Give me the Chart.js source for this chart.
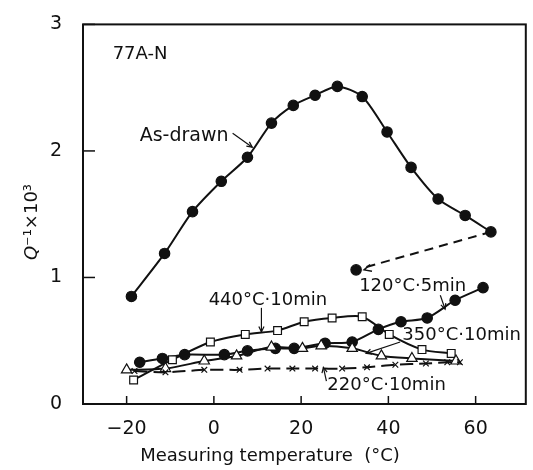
<!DOCTYPE html>
<html>
<head>
<meta charset="utf-8">
<script src="https://cdn.jsdelivr.net/npm/chart.js@4"></script>
<style>
  body { margin: 0; background: #fff; }
  #wrap { width: 533px; height: 470px; }
</style>
</head>
<body>
<div id="wrap"><canvas id="myChart"></canvas></div>
<script>
// measuring temperature (°C) and Q^-1 x 10^3
const asDrawnT = [-18.9, -11.3, -4.9, 1.7, 7.7, 13.2, 18.2, 23.2, 28.3, 34.0, 39.7, 45.2, 51.4, 57.6, 63.5]
const asDrawnQ = [0.85, 1.19, 1.52, 1.76, 1.95, 2.22, 2.36, 2.44, 2.51, 2.43, 2.15, 1.87, 1.62, 1.49, 1.36]

const jumpT = [63.5, 32.6]
const jumpQ = [1.36, 1.06]

const a120T = [-17.0, -11.8, -6.7, 2.4, 7.7, 14.1, 18.4, 25.5, 31.7, 37.7, 42.9, 48.9, 55.3, 61.7]
const a120Q = [0.33, 0.36, 0.39, 0.39, 0.42, 0.44, 0.44, 0.48, 0.49, 0.59, 0.65, 0.68, 0.82, 0.92]

const a440T = [-18.4, -9.5, -0.8, 7.2, 14.6, 20.7, 27.1, 34.0, 40.2, 47.7, 54.4]
const a440Q = [0.19, 0.35, 0.49, 0.55, 0.58, 0.65, 0.68, 0.69, 0.55, 0.43, 0.40]

const a350T = [-20.0, -11.1, -2.2, 5.2, 13.2, 20.3, 24.6, 31.7, 38.4, 45.4, 55.5]
const a350Q = [0.27, 0.28, 0.34, 0.38, 0.45, 0.44, 0.46, 0.44, 0.38, 0.36, 0.34]

const a220T = [-18.2, -11.1, -2.2, 5.9, 12.3, 18.0, 23.2, 29.4, 35.1, 41.6, 48.6, 53.5, 56.4]
const a220Q = [0.26, 0.25, 0.27, 0.27, 0.28, 0.28, 0.28, 0.28, 0.29, 0.31, 0.32, 0.33, 0.33]

const xTicks = [-20, 0, 20, 40, 60]
const yTicks = [0, 1, 2, 3]

// text labels with their arrows, in data coordinates
const notes = [
  { text: '77A-N', x: -23.2, y: 2.76, size: 18, arrow: null },
  { text: 'As-drawn', x: -17.0, y: 2.12, size: 19, arrow: [4.3, 2.14, 8.8, 2.03] },
  { text: '120°C·5min', x: 33.3, y: 0.93, size: 18, arrow: [51.9, 0.86, 53.0, 0.75] },
  { text: '440°C·10min', x: -1.2, y: 0.82, size: 18, arrow: [10.9, 0.76, 10.9, 0.57] },
  { text: '350°C·10min', x: 43.2, y: 0.54, size: 18, arrow: [42.7, 0.49, 34.9, 0.40] },
  { text: '220°C·10min', x: 26.0, y: 0.15, size: 18, arrow: [25.8, 0.18, 25.1, 0.29] },
]

const FONT = '"DejaVu Sans", sans-serif'
const INK = '#111'

function pts(xs, ys) {
  return xs.map((v, i) => ({ x: v, y: ys[i] }))
}

function arrowHead(ctx, x0, y0, x1, y1, size) {
  const ang = Math.atan2(y1 - y0, x1 - x0)
  ctx.beginPath()
  ctx.moveTo(x1 - size * Math.cos(ang - 0.45), y1 - size * Math.sin(ang - 0.45))
  ctx.lineTo(x1, y1)
  ctx.lineTo(x1 - size * Math.cos(ang + 0.45), y1 - size * Math.sin(ang + 0.45))
  ctx.stroke()
}

const decor = {
  id: 'decor',
  afterDatasetsDraw(chart) {
    const { ctx, chartArea: a, scales: { x, y } } = chart
    ctx.save()
    ctx.strokeStyle = INK
    ctx.fillStyle = INK
    ctx.lineWidth = 2
    ctx.setLineDash([])
    ctx.strokeRect(a.left, a.top, a.right - a.left, a.bottom - a.top)

    // inward ticks
    ctx.lineWidth = 1.5
    xTicks.forEach(v => {
      const px = x.getPixelForValue(v)
      ctx.beginPath(); ctx.moveTo(px, a.bottom); ctx.lineTo(px, a.bottom - 8); ctx.stroke()
    })
    yTicks.forEach(v => {
      const py = y.getPixelForValue(v)
      ctx.beginPath(); ctx.moveTo(a.left, py); ctx.lineTo(a.left + 12, py); ctx.stroke()
    })

    // arrowhead for the dashed jump
    const jx0 = x.getPixelForValue(jumpT[0]), jy0 = y.getPixelForValue(jumpQ[0])
    const jx1 = x.getPixelForValue(jumpT[1]) + 8, jy1 = y.getPixelForValue(jumpQ[1])
    ctx.lineWidth = 1.5
    arrowHead(ctx, jx0, jy0, jx1, jy1, 8)

    // labels
    ctx.textBaseline = 'middle'
    ctx.textAlign = 'left'
    notes.forEach(n => {
      ctx.font = n.size + 'px ' + FONT
      ctx.fillText(n.text, x.getPixelForValue(n.x), y.getPixelForValue(n.y))
      if (n.arrow) {
        const [x0, y0, x1, y1] = n.arrow
        const p0x = x.getPixelForValue(x0), p0y = y.getPixelForValue(y0)
        const p1x = x.getPixelForValue(x1), p1y = y.getPixelForValue(y1)
        ctx.lineWidth = 1.2
        ctx.beginPath(); ctx.moveTo(p0x, p0y); ctx.lineTo(p1x, p1y); ctx.stroke()
        arrowHead(ctx, p0x, p0y, p1x, p1y, 6)
      }
    })

    // x axis title
    ctx.font = '18px ' + FONT
    ctx.textAlign = 'center'
    ctx.fillText('Measuring temperature  (°C)', 270, 456)

    // y axis title, italic Q
    ctx.save()
    ctx.translate(32, 222)
    ctx.rotate(-Math.PI / 2)
    ctx.textAlign = 'left'
    ctx.font = 'italic 18px ' + FONT
    const wq = ctx.measureText('Q').width
    ctx.font = '18px ' + FONT
    const rest = '⁻¹×10³'
    const wr = ctx.measureText(rest).width
    const start = -(wq + wr) / 2
    ctx.font = 'italic 18px ' + FONT
    ctx.fillText('Q', start, 0)
    ctx.font = '18px ' + FONT
    ctx.fillText(rest, start + wq, 0)
    ctx.restore()

    ctx.restore()
  }
}

const base = { showLine: true, borderColor: INK, borderWidth: 2, tension: 0.25, pointBorderColor: INK, pointBorderWidth: 1.2 }

new Chart(document.getElementById('myChart'), {
  type: 'scatter',
  data: {
    datasets: [
      { ...base, label: 'As-drawn', data: pts(asDrawnT, asDrawnQ), pointStyle: 'circle', pointRadius: 5.2, pointBackgroundColor: INK },
      { ...base, label: 'jump', data: pts(jumpT, jumpQ), borderDash: [9, 6], pointStyle: 'circle', pointRadius: [0, 5.2], pointBackgroundColor: INK },
      { ...base, label: '220°C·10min', data: pts(a220T, a220Q), borderDash: [13, 6], pointStyle: 'crossRot', pointRadius: 4 },
      { ...base, label: '350°C·10min', data: pts(a350T, a350Q), pointStyle: 'triangle', pointRadius: 6, pointBackgroundColor: '#fff' },
      { ...base, label: '440°C·10min', data: pts(a440T, a440Q), pointStyle: 'rect', pointRadius: 5.5, pointBackgroundColor: '#fff' },
      { ...base, label: '120°C·5min', data: pts(a120T, a120Q), pointStyle: 'circle', pointRadius: 5.2, pointBackgroundColor: INK },
    ]
  },
  options: {
    responsive: true,
    maintainAspectRatio: false,
    animation: false,
    layout: { padding: { top: 14, right: 7, left: 0, bottom: 0 } },
    plugins: { legend: { display: false }, tooltip: { enabled: false } },
    scales: {
      x: {
        type: 'linear', min: -30, max: 71.5,
        afterBuildTicks: s => { s.ticks = xTicks.map(v => ({ value: v })) },
        afterFit: s => { s.height = 66 },
        grid: { display: false },
        border: { display: false },
        ticks: { color: INK, font: { family: FONT, size: 19 }, padding: 6,
          callback: v => (v < 0 ? '−' + Math.abs(v) : '' + v) }
      },
      y: {
        type: 'linear', min: 0, max: 3,
        afterBuildTicks: s => { s.ticks = yTicks.map(v => ({ value: v })) },
        afterFit: s => { s.width = 83 },
        grid: { display: false },
        border: { display: false },
        ticks: { color: INK, font: { family: FONT, size: 19 }, padding: 13 }
      }
    }
  },
  plugins: [decor]
})
</script>
</body>
</html>
